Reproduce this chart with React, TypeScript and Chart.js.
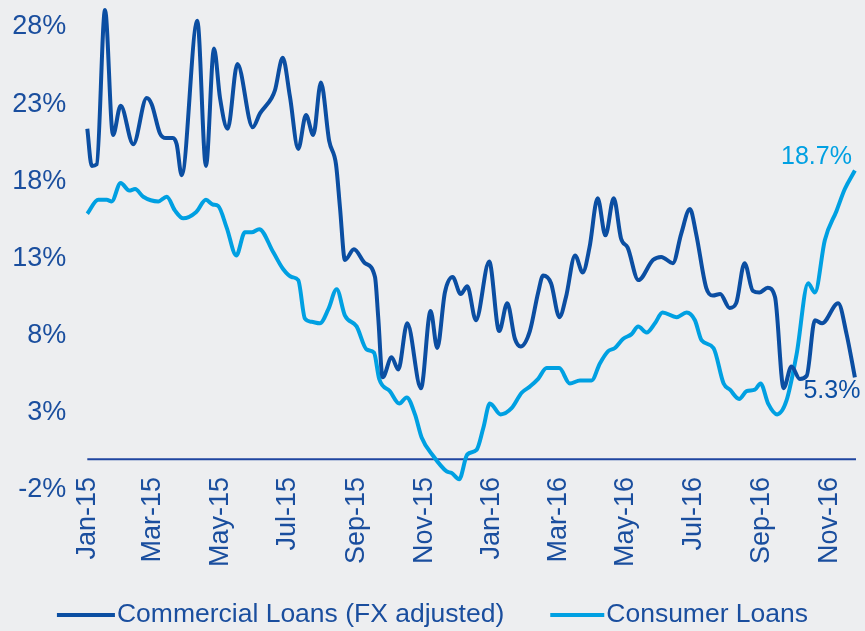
import React, { useEffect, useRef } from 'react';
import { Chart, registerables } from 'chart.js';

Chart.register(...registerables);

// X axis: days since 1 Jan 2015
const tickDays = [0, 59, 120, 181, 243, 304, 365, 425, 486, 547, 609, 670];
const tickLabels = ['Jan-15', 'Mar-15', 'May-15', 'Jul-15', 'Sep-15', 'Nov-15', 'Jan-16', 'Mar-16', 'May-16', 'Jul-16', 'Sep-16', 'Nov-16'];
const yTicks = [-2, 3, 8, 13, 18, 23, 28];
const xMax = 693;

const seriesNames = ['Commercial Loans (FX adjusted)', 'Consumer Loans'];

const commercialDays = [0, 4, 8.5, 16, 23.2, 30.1, 41.5, 53.6, 58.1, 65.6, 71, 77.3, 80.7, 85.2, 99.3, 107.1, 114.4, 119.8, 126.7, 135.5, 149.3, 155.9, 166.4, 169.4, 176.4, 182.9, 190.4, 197.4, 204, 210.9, 218.4, 224.5, 228.1, 232.6, 240.7, 250.6, 259.7, 262.6, 266.6, 274.7, 280.7, 288.8, 301.2, 309.9, 315.9, 322.8, 329.8, 337, 343, 350.8, 362.8, 371.8, 379.1, 386, 391.2, 399.5, 407, 411.5, 418.6, 426.2, 432.1, 440.3, 447.2, 453.3, 460.7, 467.7, 475.2, 481.8, 487.8, 497.5, 510.6, 518.1, 528.6, 536.1, 544, 549.6, 558.7, 564.7, 571.3, 579.8, 585.7, 593.3, 600.8, 606.7, 614.2, 620.8, 628.6, 635.6, 643.2, 649.4, 656.8, 663.3, 677.8, 685.4, 692.9];
const commercialValues = [21.4, 19.0, 19.1, 29.1, 21.0, 22.9, 20.4, 23.4, 23.0, 21.1, 20.8, 20.8, 20.4, 18.4, 28.4, 19.0, 26.6, 23.4, 21.4, 25.6, 21.5, 22.4, 23.4, 23.9, 26.0, 23.5, 20.1, 22.3, 21.0, 24.4, 20.6, 19.1, 16.3, 12.9, 13.6, 12.7, 11.8, 9.2, 5.3, 6.6, 5.8, 8.8, 4.6, 9.6, 7.2, 10.8, 11.8, 10.7, 11.2, 9.0, 12.8, 8.3, 10.1, 7.8, 7.3, 8.3, 10.8, 11.9, 11.4, 9.2, 10.5, 13.2, 12.1, 13.7, 16.9, 14.5, 16.9, 14.3, 13.7, 11.6, 12.9, 13.1, 12.7, 14.6, 16.2, 14.6, 11.1, 10.6, 10.7, 9.8, 10.1, 12.7, 10.9, 10.8, 11.1, 10.5, 4.6, 6.0, 5.2, 5.4, 9.0, 8.8, 10.1, 8.1, 5.3];

const consumerDays = [0, 9.9, 17.5, 22, 30.1, 37.9, 43.1, 50.5, 64.1, 71.7, 79.2, 86.6, 98.1, 107.1, 113.2, 118.2, 125.8, 134.5, 142.3, 148.4, 155.2, 167.9, 176.9, 184.5, 190.4, 196.5, 202.5, 210, 217.5, 225.1, 232.6, 243.1, 252.2, 258.8, 263.5, 273.2, 281.6, 288.3, 295.8, 301.8, 312.3, 324.4, 328.9, 335.7, 343, 351.4, 357.4, 363.4, 373.1, 383, 392.1, 399.5, 407, 414.6, 426, 435.6, 444.7, 455.2, 462.7, 470.2, 476.3, 483.8, 491.3, 497.3, 504.9, 512.4, 519.3, 531.9, 541, 548.5, 554.5, 565.3, 574.4, 580.1, 588.4, 595.1, 602.6, 607.8, 614.6, 622.7, 631.2, 640.3, 650.7, 656.8, 665.8, 676.4, 683.8, 692.9];
const consumerValues = [15.9, 16.8, 16.8, 16.7, 17.9, 17.4, 17.5, 17.0, 16.7, 17.0, 16.1, 15.6, 16.0, 16.8, 16.5, 16.4, 15.0, 13.2, 14.7, 14.7, 14.9, 13.4, 12.3, 11.8, 11.6, 9.1, 8.9, 8.8, 9.7, 11.0, 9.3, 8.6, 7.1, 6.9, 5.2, 4.4, 3.6, 4.0, 2.9, 1.4, 0.2, -0.8, -0.9, -1.3, 0.3, 0.6, 2.0, 3.6, 2.9, 3.3, 4.3, 4.7, 5.2, 5.9, 5.9, 4.9, 5.1, 5.1, 6.2, 7.0, 7.2, 7.8, 8.1, 8.6, 8.2, 8.8, 9.5, 9.2, 9.5, 9.0, 7.7, 7.2, 4.9, 4.5, 3.9, 4.4, 4.5, 4.9, 3.6, 2.9, 3.8, 6.8, 11.4, 10.8, 14.2, 16.1, 17.5, 18.7];

const DARK = '#0B4EA2';
const LIGHT = '#00A0E2';
const TEXT = '#1A4E9E';
const BG = '#EDEEF0';
const FONT = '"Liberation Sans", Arial, sans-serif';

const extrasPlugin = {
  id: 'extras',
  beforeDatasetsDraw(chart: any) {
    const { ctx, chartArea, scales } = chart;
    const y0 = scales.y.getPixelForValue(0);
    ctx.save();
    ctx.strokeStyle = '#1F45A0';
    ctx.lineWidth = 2;
    ctx.beginPath();
    ctx.moveTo(chartArea.left, y0);
    ctx.lineTo(chartArea.right + 1, y0);
    ctx.stroke();
    ctx.restore();
  },
  afterDatasetsDraw(chart: any) {
    const { ctx } = chart;
    ctx.save();
    ctx.font = `25px ${FONT}`;
    const m1 = chart.getDatasetMeta(1);
    const p1 = m1.data[m1.data.length - 1];
    ctx.fillStyle = LIGHT;
    ctx.textAlign = 'right';
    ctx.textBaseline = 'bottom';
    ctx.fillText(consumerValues[consumerValues.length - 1].toFixed(1) + '%', p1.x - 3, p1.y - 1);
    const m0 = chart.getDatasetMeta(0);
    const p0 = m0.data[m0.data.length - 1];
    ctx.fillStyle = DARK;
    ctx.textAlign = 'center';
    ctx.textBaseline = 'top';
    ctx.fillText(commercialValues[commercialValues.length - 1].toFixed(1) + '%', p0.x - 23, p0.y + 1);
    ctx.restore();
  },
  afterDraw(chart: any) {
    const { ctx, width, scales } = chart;
    ctx.save();
    // category labels, rotated, below the zero line
    ctx.font = `27px ${FONT}`;
    ctx.fillStyle = TEXT;
    ctx.textAlign = 'right';
    ctx.textBaseline = 'middle';
    tickDays.forEach((d, i) => {
      const x = scales.x.getPixelForValue(d);
      ctx.save();
      ctx.translate(x, 477);
      ctx.rotate(-Math.PI / 2);
      ctx.fillText(tickLabels[i], 0, 0);
      ctx.restore();
    });
    // legend
    ctx.font = `26.5px ${FONT}`;
    ctx.textAlign = 'left';
    const lineW = [58, 54];
    const gapText = 2;
    const gapItem = 46;
    const colors = [DARK, LIGHT];
    const tw = seriesNames.map((n) => ctx.measureText(n).width);
    const total = lineW[0] + gapText + tw[0] + gapItem + lineW[1] + gapText + tw[1];
    let x = (width - total) / 2;
    const y = 615;
    seriesNames.forEach((n, i) => {
      ctx.fillStyle = colors[i];
      ctx.fillRect(x, y - 2, lineW[i], 4);
      x += lineW[i] + gapText;
      ctx.fillStyle = TEXT;
      ctx.fillText(n, x, y);
      x += tw[i] + gapItem;
    });
    ctx.restore();
  },
};

export default function App() {
  const ref = useRef<HTMLCanvasElement>(null);
  useEffect(() => {
    if (!ref.current) return;
    const chart = new Chart(ref.current, {
      type: 'line',
      data: {
        datasets: [
          {
            label: seriesNames[0],
            data: commercialDays.map((d, i) => ({ x: d, y: commercialValues[i] })),
            borderColor: DARK,
            backgroundColor: DARK,
            borderWidth: 4,
            pointRadius: 0,
            cubicInterpolationMode: 'monotone',
            clip: false,
          },
          {
            label: seriesNames[1],
            data: consumerDays.map((d, i) => ({ x: d, y: consumerValues[i] })),
            borderColor: LIGHT,
            backgroundColor: LIGHT,
            borderWidth: 4,
            pointRadius: 0,
            cubicInterpolationMode: 'monotone',
            clip: false,
          },
        ],
      },
      options: {
        animation: false,
        responsive: true,
        maintainAspectRatio: false,
        layout: { padding: { top: 27, right: 10, left: 0, bottom: 0 } },
        plugins: { legend: { display: false }, tooltip: { enabled: false } },
        scales: {
          x: {
            type: 'linear',
            min: 0,
            max: xMax,
            grid: { display: false, drawTicks: false },
            border: { display: false },
            afterBuildTicks: (s: any) => {
              s.ticks = tickDays.map((v) => ({ value: v }));
            },
            afterFit: (s: any) => {
              s.height = 141;
              s.paddingLeft = 0;
              s.paddingRight = 0;
            },
            ticks: { display: false },
          },
          y: {
            min: -2,
            max: 28,
            grid: { display: false, drawTicks: false },
            border: { display: false },
            afterBuildTicks: (s: any) => {
              s.ticks = yTicks.map((v) => ({ value: v }));
            },
            afterFit: (s: any) => {
              s.width = 87.3;
              s.paddingTop = 0;
              s.paddingBottom = 0;
            },
            ticks: {
              padding: 21,
              color: TEXT,
              font: { size: 27, family: FONT },
              callback: (v: any) => `${v}%`,
            },
          },
        },
      },
      plugins: [extrasPlugin],
    });
    return () => chart.destroy();
  }, []);
  return (
    <div style={{ position: 'fixed', left: 0, top: 0, width: 865, height: 631, background: BG }}>
      <canvas ref={ref} />
    </div>
  );
}
